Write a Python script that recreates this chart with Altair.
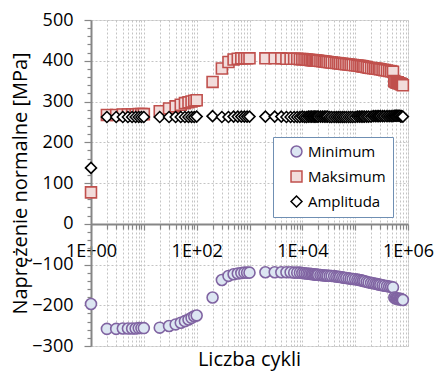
import altair as alt
import pandas as pd

series_names = ["Minimum", "Maksimum", "Amplituda"]

# Liczba cykli (x)
cycles_early = [1, 2, 3, 4, 5, 6, 7, 8, 9, 10,
                20, 30, 40, 50, 60, 70, 80, 90, 100,
                200, 300, 400, 500, 600, 700, 800, 900, 1000,
                2000, 3000, 4000, 5000, 6000, 7000, 8000, 9000, 10000]
cycles_dense = [11000, 12000, 13000, 14000, 15000, 16000, 17000, 18000, 19000, 20000,
                22000, 24000, 26000, 28000, 30000, 33000, 36000, 40000, 44000, 48000,
                52000, 57000, 62000, 68000, 75000, 82000, 90000, 100000, 110000, 120000,
                130000, 140000, 150000, 165000, 180000, 200000, 220000, 240000, 260000, 280000,
                300000, 330000, 360000, 400000, 440000, 480000, 520000]
cycles_end = [550000, 580000, 610000, 640000, 670000, 700000, 730000, 760000, 800000]

min_early = [-197, -258, -258, -257, -257, -257, -257, -256, -256, -256,
             -255, -251, -247, -243, -239, -235, -231, -227, -225,
             -181, -138, -128, -124, -122, -121, -120, -120, -120,
             -119, -119, -119, -119, -119, -120, -120, -120, -121]
min_dense = [-121.5, -122, -122.5, -123, -123.5, -124, -124.4, -124.8, -125.2, -125.5,
             -126, -126.5, -127, -127.3, -127.6, -127.8, -128, -128.5, -129.3, -130,
             -130.8, -131.6, -132.4, -133.2, -134, -134.8, -135.5, -136, -137, -138,
             -139, -140, -141, -142.5, -144, -145, -146, -147, -148, -149,
             -150, -151, -152, -153, -154, -155, -156]
min_end = [-181, -183, -184, -183, -185, -186, -184, -186, -187]

max_early = [77, 267, 267, 268, 268, 268, 268, 269, 269, 269,
             276, 283, 288, 292, 296, 298, 300, 302, 303,
             348, 381, 397, 403, 405, 406, 406, 406, 406,
             406, 406, 406, 405, 405, 405, 405, 404, 404]
max_dense = [403.5, 403, 402.5, 402, 401.5, 401, 400.8, 400.5, 400.2, 400,
             399.3, 398.7, 398, 397.5, 397, 396.3, 395.7, 395, 394.4, 393.8,
             393.2, 392.6, 392, 391.4, 390.7, 390, 389.5, 389, 388.2, 387.5,
             386.8, 386.2, 385.5, 384.3, 383, 382.2, 381.5, 380.8, 380.2, 379.6,
             379, 378, 377, 376, 375, 374, 373]
max_end = [350, 348, 346, 347, 345, 344, 343, 342, 340]

amp_early = [137, 262, 262, 262, 262, 262, 262, 262, 262, 262,
             262, 262, 262, 262, 262, 262, 262, 262, 263,
             264, 262, 262, 263, 263, 263, 263, 263, 263,
             263, 263, 263, 262, 262, 262, 262, 262, 263]
amp_dense = [262, 262, 263, 263, 263, 263, 263, 263, 263, 263,
             263, 263, 263, 263, 263, 262, 262, 262, 262, 262,
             262, 262, 262, 262, 262, 262, 262, 262, 263, 263,
             263, 263, 263, 263, 263, 263, 264, 264, 264, 264,
             264, 264, 264, 264, 264, 264, 264]
amp_end = [265, 265, 265, 265, 265, 265, 263, 264, 263]

y_tick_values = list(range(-300, 501, 20))
x_tick_values = [m * 10 ** k for k in range(6) for m in range(1, 10)] + [1000000]

cycles = cycles_early + cycles_dense + cycles_end
values = {
    "Minimum": min_early + min_dense + min_end,
    "Maksimum": max_early + max_dense + max_end,
    "Amplituda": amp_early + amp_dense + amp_end,
}

rows = []
for name in series_names:
    for n, v in zip(cycles, values[name]):
        rows.append({"N": n, "S": v, "series": name})
df = pd.DataFrame(rows)

FONT = "Open Sans"
AXIS_GRAY = "#868686"
GRID = "#c4c4c4"

legend = alt.Legend(
    title=None, orient="none", legendX=182, legendY=117, direction="vertical",
    padding=7, rowPadding=8, labelFont=FONT, labelFontSize=15, labelColor="black",
    symbolSize=120, symbolStrokeWidth=1.5, strokeColor="#6f8fb3", fillColor="white",
    labelOffset=4, symbolOffset=9,
)

x_label_expr = ("datum.value == 1 ? '1E+00' : datum.value == 100 ? '1E+02' : "
                "datum.value == 10000 ? '1E+04' : datum.value == 1000000 ? '1E+06' : ''")
decade_test = "indexof([1,10,100,1000,10000,100000,1000000], datum.value) >= 0"

x_axis = alt.Axis(
    values=x_tick_values, labelExpr=x_label_expr, offset=-122,
    grid=True, gridColor=GRID, gridDash=[2, 2], gridWidth=1,
    domainColor=AXIS_GRAY, domainWidth=2, tickColor=AXIS_GRAY, tickWidth=1.2,
    tickSize={"condition": {"test": decade_test, "value": 6}, "value": 5},
    labelFont=FONT, labelFontSize=18, labelColor="black", labelPadding=12,
    labelOverlap=False, labelFlush=False, title=None,
)

y_axis = alt.Axis(
    values=y_tick_values,
    labelExpr="datum.value % 100 == 0 ? datum.label : ''",
    grid=True, gridColor=GRID, gridDash=[2, 2], gridWidth=1,
    gridOpacity={"condition": {"test": "datum.value % 100 == 0", "value": 1}, "value": 0},
    domainColor=AXIS_GRAY, domainWidth=2, tickColor=AXIS_GRAY, tickWidth=1.2,
    tickSize={"condition": {"test": "datum.value % 100 == 0", "value": 7}, "value": 4},
    labelFont=FONT, labelFontSize=18, labelColor="black", labelPadding=11,
    labelOverlap=False, format="d",
    title="Naprężenie normalne [MPa]", titleFont=FONT, titleFontSize=20,
    titleFontWeight="normal", titleColor="black", titlePadding=1,
)

chart = alt.Chart(df).mark_point(filled=True, opacity=1, size=120, strokeWidth=1.6).encode(
    x=alt.X("N:Q", scale=alt.Scale(type="log", domain=[1, 1000000], nice=False), axis=x_axis),
    y=alt.Y("S:Q", scale=alt.Scale(domain=[-300, 500], nice=False), axis=y_axis),
    shape=alt.Shape("series:N", scale=alt.Scale(domain=series_names,
                    range=["circle", "square", "diamond"]), legend=legend),
    fill=alt.Fill("series:N", scale=alt.Scale(domain=series_names,
                  range=["#dce6f2", "#f2dcdb", "#ffffff"]), legend=legend),
    stroke=alt.Stroke("series:N", scale=alt.Scale(domain=series_names,
                      range=["#8064a2", "#c0504d", "#000000"]), legend=legend),
).properties(
    width=317, height=326,
    title=alt.TitleParams("Liczba cykli", orient="bottom", font=FONT, fontSize=20,
                          fontWeight="normal", color="black", offset=-5, frame="group"),
    autosize=alt.AutoSizeParams(type="none"),
    padding={"left": 91, "top": 20, "right": 28, "bottom": 26},
).configure_view(stroke=None).configure(background="white")

chart.save("out.html", embed_options={"renderer": "svg", "actions": False})
